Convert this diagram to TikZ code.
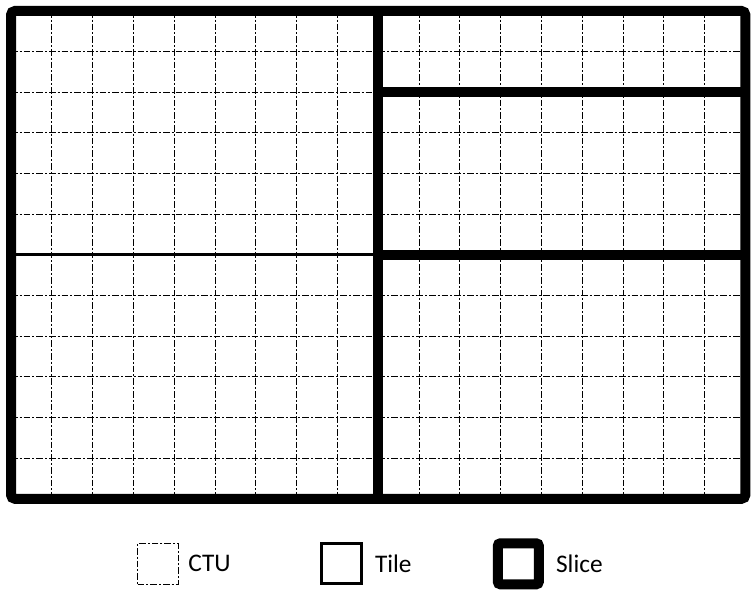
\documentclass[tikz,border=0pt]{standalone}
\usepackage{fontspec}
\setmainfont{Carlito}
\usetikzlibrary{positioning}

\begin{document}
\begin{tikzpicture}[x=0.75pt,y=-0.75pt,
  ctu/.style={line width=0.7pt, dash pattern=on 5pt off 1.5pt on 1.5pt off 1.5pt},
  tile/.style={line width=2.2pt},
  slice/.style={line width=7.5pt},
  lbl/.style={inner sep=0pt, anchor=west, font=\fontsize{19}{23}\selectfont}]
\useasboundingbox (0,0) rectangle (754,599);

% CTU grid
\foreach \i in {1,...,17}
  \draw[ctu] (11+40.8*\i,11) -- (11+40.8*\i,498.8);
\foreach \j in {1,...,11}
  \draw[ctu] (11,11+40.65*\j) -- (745.4,11+40.65*\j);

% tiles
\draw[tile] (11,254.9) -- (378.2,254.9);

% slices
\draw[slice] (378.2,11) -- (378.2,498.8);
\draw[slice] (378.2,92.3) -- (745.4,92.3);
\draw[slice] (378.2,254.9) -- (745.4,254.9);
\draw[slice, rounded corners=3pt] (11,11) rectangle (745.4,498.8);

% legend
\node[draw, ctu, inner sep=0pt, minimum size=30.5pt] (ctubox) at (158,563.7) {};
\node[lbl, right=7pt of ctubox] (ctutxt) {CTU};
\node[draw, tile, inner sep=0pt, minimum size=30pt] (tilebox) at (341.3,563.7) {};
\node[lbl, right=9pt of tilebox] (tiletxt) {Tile};
\node[draw, slice, rounded corners=2pt, inner sep=0pt, minimum size=30.75pt] (slicebox) at (518.3,563.8) {};
\node[lbl, right=9pt of slicebox] (slicetxt) {Slice};
\end{tikzpicture}
\end{document}
